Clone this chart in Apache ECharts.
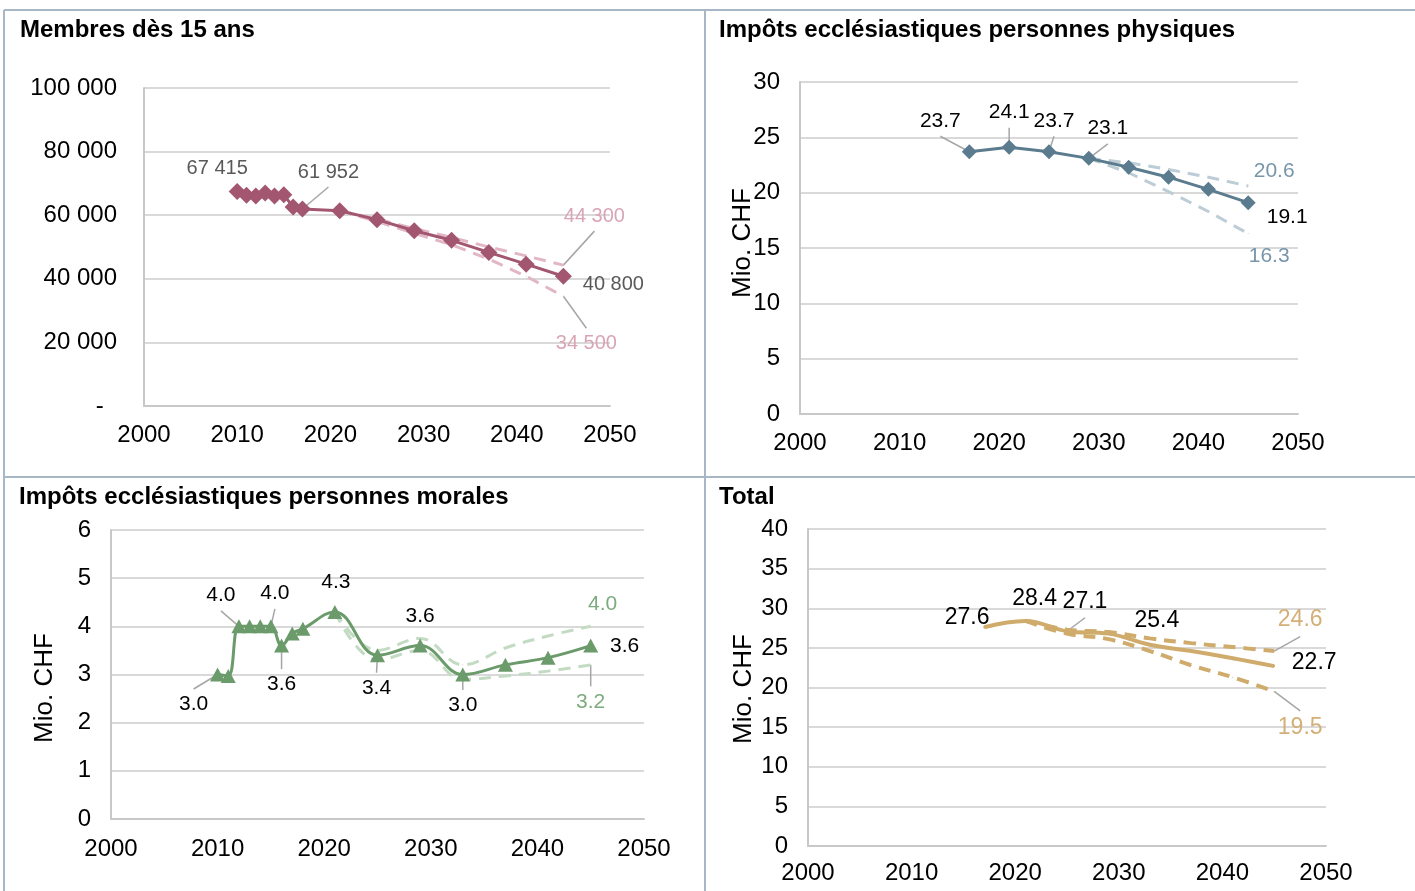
<!DOCTYPE html>
<html>
<head>
<meta charset="utf-8">
<script src="https://cdn.jsdelivr.net/npm/echarts/dist/echarts.min.js"></script>
<style>
  html, body { margin: 0; padding: 0; background: #fff; }
  #chart { width: 1415px; height: 891px; }
</style>
</head>
<body>
<div id="chart"></div>
<script>
// --- data ---
// Membres dès 15 ans
var yearsMembers = [2010, 2011, 2012, 2013, 2014, 2015, 2016, 2017, 2021, 2025, 2029, 2033, 2037, 2041, 2045];
var members      = [67415, 66300, 66000, 67000, 66000, 66400, 62600, 61952, 61400, 58600, 55100, 52100, 48300, 44600, 40800];
var yearsMembersScen = [2021, 2025, 2029, 2033, 2037, 2041, 2045];
var membersHigh      = [61400, 58800, 55800, 53000, 50000, 47200, 44300];
var membersLow       = [61400, 58000, 54300, 50700, 46200, 40800, 34500];

// Impôts personnes physiques (Mio. CHF)
var yearsPP = [2017, 2021, 2025, 2029, 2033, 2037, 2041, 2045];
var taxPP   = [23.7, 24.1, 23.7, 23.1, 22.3, 21.4, 20.3, 19.1];
var yearsPPScen = [2029, 2033, 2037, 2041, 2045];
var taxPPHigh   = [23.1, 22.7, 22.1, 21.4, 20.6];
var taxPPLow    = [23.1, 21.8, 20.1, 18.3, 16.3];

// Impôts personnes morales (Mio. CHF)
var yearsPM = [2010, 2011, 2012, 2013, 2014, 2015, 2016, 2017, 2018, 2021, 2025, 2029, 2033, 2037, 2041, 2045];
var taxPM   = [3.0, 2.97, 4.0, 4.0, 4.0, 4.0, 3.6, 3.85, 3.95, 4.3, 3.4, 3.6, 3.0, 3.2, 3.35, 3.6];
var yearsPMScen = [2021, 2025, 2029, 2033, 2037, 2041, 2045];
var taxPMHigh   = [4.3, 3.5, 3.75, 3.2, 3.55, 3.8, 4.0];
var taxPMLow    = [4.3, 3.3, 3.5, 2.9, 2.97, 3.07, 3.2];

// Total (Mio. CHF)
var yearsTot = [2017, 2021, 2025, 2029, 2033, 2037, 2041, 2045];
var total    = [27.6, 28.4, 27.1, 26.8, 25.4, 24.6, 23.7, 22.7];
var yearsTotScen = [2021, 2025, 2029, 2033, 2037, 2041, 2045];
var totalHigh    = [28.4, 27.3, 27.0, 26.2, 25.6, 25.1, 24.6];
var totalLow     = [28.4, 26.8, 26.1, 24.6, 22.8, 21.3, 19.5];

var FONT = "'Liberation Sans', Arial, sans-serif";
var LEADER = '#a6a6a6';

function thousands(v) {
  return String(Math.round(v)).replace(/\B(?=(\d{3})+(?!\d))/g, ' ');
}
function oneDec(v) { return v.toFixed(1); }

var leaderSpecs = [];

// label placement: index -> [dx, dy, leader line, colour]
function lineSeries(idx, xs, ys, st, labels) {
  var data = xs.map(function (x, i) {
    var item = { value: [x, ys[i]] };
    var l = labels && labels[i];
    if (l) {
      item.label = { show: true, color: l[3] || '#000' };
      if (l[2]) leaderSpecs.push({ grid: idx, x: x, y: ys[i], dx: l[0], dy: l[1], fs: st.fs });
    }
    return item;
  });
  return {
    type: 'line',
    xAxisIndex: idx,
    yAxisIndex: idx,
    data: data,
    z: st.z || 2,
    symbol: st.symbol || 'circle',
    symbolSize: st.size || 1,
    showSymbol: true,
    smooth: st.smooth || false,
    silent: true,
    lineStyle: { color: st.color, width: st.width || 3, type: st.dash ? [12, 8] : 'solid' },
    itemStyle: { color: st.color },
    label: {
      show: false, position: 'inside', fontSize: st.fs, fontFamily: FONT,
      textBorderWidth: 0,
      formatter: function (p) { return st.fmt(p.value[1]); }
    },
    labelLayout: function (p) {
      var l = labels && labels[p.dataIndex];
      return l ? { dx: l[0], dy: l[1] } : {};
    }
  };
}

var grids = [
  { left: 144, top: 88, width: 466, height: 318 },
  { left: 800, top: 82, width: 498, height: 332 },
  { left: 111, top: 530, width: 533, height: 289 },
  { left: 808, top: 529, width: 518, height: 317 }
];
var yRanges = [[0, 100000, 20000], [0, 30, 5], [0, 6, 1], [0, 40, 5]];
var xMargins = [17, 17, 18, 15];
var yMargins = [27, 20, 20, 20];

var xAxes = grids.map(function (g, i) {
  return {
    gridIndex: i, type: 'value', min: 2000, max: 2050, interval: 10,
    axisLine: { show: true, lineStyle: { color: '#c8c8c8', width: 2 } },
    axisTick: { show: false }, splitLine: { show: false },
    axisLabel: {
      fontSize: 24, color: '#000', fontFamily: FONT, margin: xMargins[i],
      formatter: function (v) { return String(v); }
    }
  };
});
var yAxes = grids.map(function (g, i) {
  return {
    gridIndex: i, type: 'value', min: yRanges[i][0], max: yRanges[i][1], interval: yRanges[i][2],
    axisLine: { show: true, lineStyle: { color: '#c8c8c8', width: 2 } },
    axisTick: { show: false },
    splitLine: { show: true, lineStyle: { color: '#d9d9d9', width: 2 } },
    axisLabel: {
      fontSize: 24, color: '#000', fontFamily: FONT, margin: yMargins[i],
      formatter: i === 0 ? function (v) { return v === 0 ? '-  ' : thousands(v); } : function (v) { return String(v); }
    }
  };
});

var c1 = '#a3566f', c1d = '#e2b7c5', c1t = '#d9a5b5';
var c2 = '#5b7b8e', c2d = '#bccdd6', c2t = '#7896aa';
var c3 = '#6b9a6b', c3d = '#c3dbc3', c3t = '#7eab7e';
var c4 = '#cfab6c', c4t = '#d4b078';

var series = [
  // panel 1
  lineSeries(0, yearsMembersScen, membersHigh, { color: c1d, dash: true, fs: 20, fmt: thousands },
    { 6: [31, -49, true, c1t] }),
  lineSeries(0, yearsMembersScen, membersLow, { color: c1d, dash: true, fs: 20, fmt: thousands },
    { 6: [23, 47, true, c1t] }),
  lineSeries(0, yearsMembers, members, { color: c1, symbol: 'diamond', size: 17, z: 3, fs: 20, fmt: thousands },
    { 0: [-20, -23, false, '#595959'], 7: [26, -37, true, '#595959'], 14: [50, 8, false, '#595959'] }),
  // panel 2
  lineSeries(1, yearsPPScen, taxPPHigh, { color: c2d, dash: true, fs: 21, fmt: oneDec },
    { 4: [26, -15, false, c2t] }),
  lineSeries(1, yearsPPScen, taxPPLow, { color: c2d, dash: true, fs: 21, fmt: oneDec },
    { 4: [21, 23, false, c2t] }),
  lineSeries(1, yearsPP, taxPP, { color: c2, symbol: 'diamond', size: 15, z: 3, fs: 21, fmt: oneDec },
    { 0: [-29, -31, true], 1: [0, -35, true], 2: [5, -31, true], 3: [19, -30, true], 7: [39, 15, false] }),
  // panel 3
  lineSeries(2, yearsPMScen, taxPMHigh, { color: c3d, dash: true, smooth: 0.4, fs: 21, fmt: oneDec },
    { 6: [12, -22, false, c3t] }),
  lineSeries(2, yearsPMScen, taxPMLow, { color: c3d, dash: true, smooth: 0.4, fs: 21, fmt: oneDec },
    { 6: [0, 37, true, c3t] }),
  lineSeries(2, yearsPM, taxPM, { color: c3, symbol: 'triangle', size: [15, 14], z: 3, smooth: 0.4, fs: 21, fmt: oneDec },
    { 0: [-24, 30, true], 2: [-18, -31, true], 5: [4, -33, true], 6: [0, 39, true], 9: [1, -30, false],
      10: [-1, 33, true], 11: [0, -29, false], 12: [0, 31, true], 15: [34, 1, false] }),
  // panel 4
  lineSeries(3, yearsTotScen, totalHigh, { color: c4, dash: true, width: 4, smooth: 0.4, fs: 23, fmt: oneDec },
    { 6: [26, -31, true, c4t] }),
  lineSeries(3, yearsTotScen, totalLow, { color: c4, dash: true, width: 4, smooth: 0.4, fs: 23, fmt: oneDec },
    { 6: [26, 36, true, c4t] }),
  lineSeries(3, yearsTot, total, { color: c4, width: 4, size: 2, z: 3, smooth: 0.4, fs: 23, fmt: oneDec },
    { 0: [-17, -10, false], 1: [9, -22, false], 2: [18, -30, true], 4: [7, -24, false], 7: [40, -3, false] })
];

var border = { stroke: '#a7b7c5', lineWidth: 2 };
function yName(x, y) {
  return {
    type: 'text', x: x, y: y, rotation: Math.PI / 2, silent: true,
    style: { text: 'Mio. CHF', fontSize: 26, fontFamily: FONT, fill: '#000', align: 'center', verticalAlign: 'middle' }
  };
}
var decor = [
  { type: 'line', silent: true, shape: { x1: 4, y1: 10, x2: 1415, y2: 10 }, style: border },
  { type: 'line', silent: true, shape: { x1: 4, y1: 10, x2: 4, y2: 891 }, style: border },
  { type: 'line', silent: true, shape: { x1: 705, y1: 10, x2: 705, y2: 891 }, style: border },
  { type: 'line', silent: true, shape: { x1: 4, y1: 477, x2: 1415, y2: 477 }, style: border },
  yName(743, 243),
  yName(45, 688),
  yName(744, 689)
];

var chart = echarts.init(document.getElementById('chart'));
chart.setOption({
  animation: false,
  backgroundColor: '#fff',
  title: [
    { text: 'Membres dès 15 ans', left: 20, top: 18 },
    { text: 'Impôts ecclésiastiques personnes physiques', left: 719, top: 18 },
    { text: 'Impôts ecclésiastiques personnes morales', left: 19, top: 485 },
    { text: 'Total', left: 719, top: 485 }
  ].map(function (t) {
    t.padding = 0;
    t.textStyle = { fontSize: 24, fontWeight: 'bold', color: '#000', fontFamily: FONT };
    return t;
  }),
  grid: grids,
  xAxis: xAxes,
  yAxis: yAxes,
  series: series,
  graphic: decor
});

// leader lines: from the label's near edge (top or bottom centre) to the data point
var leaders = leaderSpecs.map(function (s) {
  var p = chart.convertToPixel({ gridIndex: s.grid }, [s.x, s.y]);
  var cx = p[0] + s.dx, cy = p[1] + s.dy;
  var sy = s.dy < 0 ? cy + s.fs * 0.5 + 5 : cy - s.fs * 0.5 - 5;
  return {
    type: 'line', silent: true, z: 1,
    shape: { x1: cx, y1: sy, x2: p[0], y2: p[1] },
    style: { stroke: LEADER, lineWidth: 1.5 }
  };
});
chart.setOption({ graphic: decor.concat(leaders) });
</script>
</body>
</html>
